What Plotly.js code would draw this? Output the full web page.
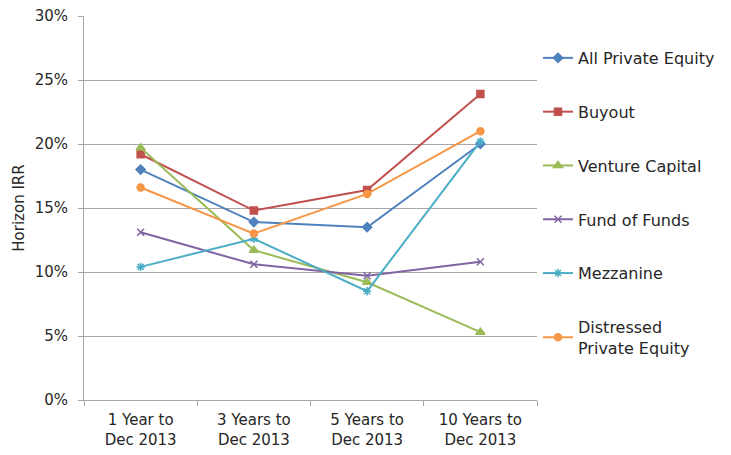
<!DOCTYPE html>
<html>
<head>
<meta charset="utf-8">
<script src="https://cdn.plot.ly/plotly-3.0.1.min.js"></script>
<style>html,body{margin:0;padding:0;background:#fff;}#chart{width:731px;height:455px;}</style>
</head>
<body>
<div id="chart"></div>
<script>
const categories = ["1 Year to<br>Dec 2013", "3 Years to<br>Dec 2013", "5 Years to<br>Dec 2013", "10 Years to<br>Dec 2013"];
const allPrivateEquity = [18.0, 13.9, 13.5, 20.0];
const buyout = [19.2, 14.8, 16.4, 23.9];
const ventureCapital = [19.7, 11.7, 9.2, 5.3];
const fundOfFunds = [13.1, 10.6, 9.7, 10.8];
const mezzanine = [10.4, 12.6, 8.5, 20.2];
const distressedPE = [16.6, 13.0, 16.1, 21.0];
const seriesNames = ["All Private Equity", "Buyout", "Venture Capital", "Fund of Funds", "Mezzanine", "Distressed<br>Private Equity"];
const yTickVals = [0, 5, 10, 15, 20, 25, 30];
const yTickText = ["0%", "5%", "10%", "15%", "20%", "25%", "30%"];

const seriesData = [allPrivateEquity, buyout, ventureCapital, fundOfFunds, mezzanine, distressedPE];
const colors = ["#4F81BD", "#C0504D", "#9BBB59", "#8064A2", "#4BACC6", "#F79646"];
const symbols = ["diamond", "square", "triangle-up", "x-thin-open", "asterisk-open", "circle"];
const sizes = [7, 7, 8, 7, 7, 7];

const traces = seriesData.map((vals, i) => ({
  type: "scatter",
  mode: "lines+markers",
  x: categories,
  y: vals,
  name: seriesNames[i],
  legendgroup: "g" + i,
  line: {color: colors[i], width: 2},
  marker: {symbol: symbols[i], size: sizes[i], color: colors[i], line: {color: colors[i], width: 1.5}}
}));

const font = "DejaVu Sans, sans-serif";
const layout = {
  width: 731, height: 455,
  margin: {l: 84, r: 193, t: 16, b: 55},
  paper_bgcolor: "#fff", plot_bgcolor: "#fff",
  font: {family: font, size: 14, color: "#262626"},
  showlegend: true,
  legend: {
    x: 1.0, xanchor: "left", y: 0.935, yanchor: "top",
    traceorder: "grouped", tracegroupgap: 30,
    font: {family: font, size: 16, color: "#262626"},
    itemwidth: 30
  },
  xaxis: {
    type: "category",
    showline: true, linecolor: "#A6A6A6", linewidth: 1,
    ticks: "outside", tickson: "boundaries", ticklen: 5, tickcolor: "#A6A6A6",
    showgrid: false, zeroline: false,
    ticklabelstandoff: 6,
    tickfont: {family: font, size: 15, color: "#262626"},
    range: [-0.5, 3.5]
  },
  yaxis: {
    range: [0, 30],
    tickvals: yTickVals, ticktext: yTickText,
    showline: true, linecolor: "#A6A6A6", linewidth: 1,
    ticks: "outside", ticklen: 5, tickcolor: "#A6A6A6",
    showgrid: true, gridcolor: "#A6A6A6", gridwidth: 1,
    zeroline: false,
    ticklabelstandoff: 7,
    tickfont: {family: font, size: 15, color: "#262626"},
    title: {text: "Horizon IRR", font: {family: font, size: 15, color: "#262626"}, standoff: 6}
  }
};

Plotly.newPlot("chart", traces, layout, {staticPlot: true, displayModeBar: false});
</script>
</body>
</html>
